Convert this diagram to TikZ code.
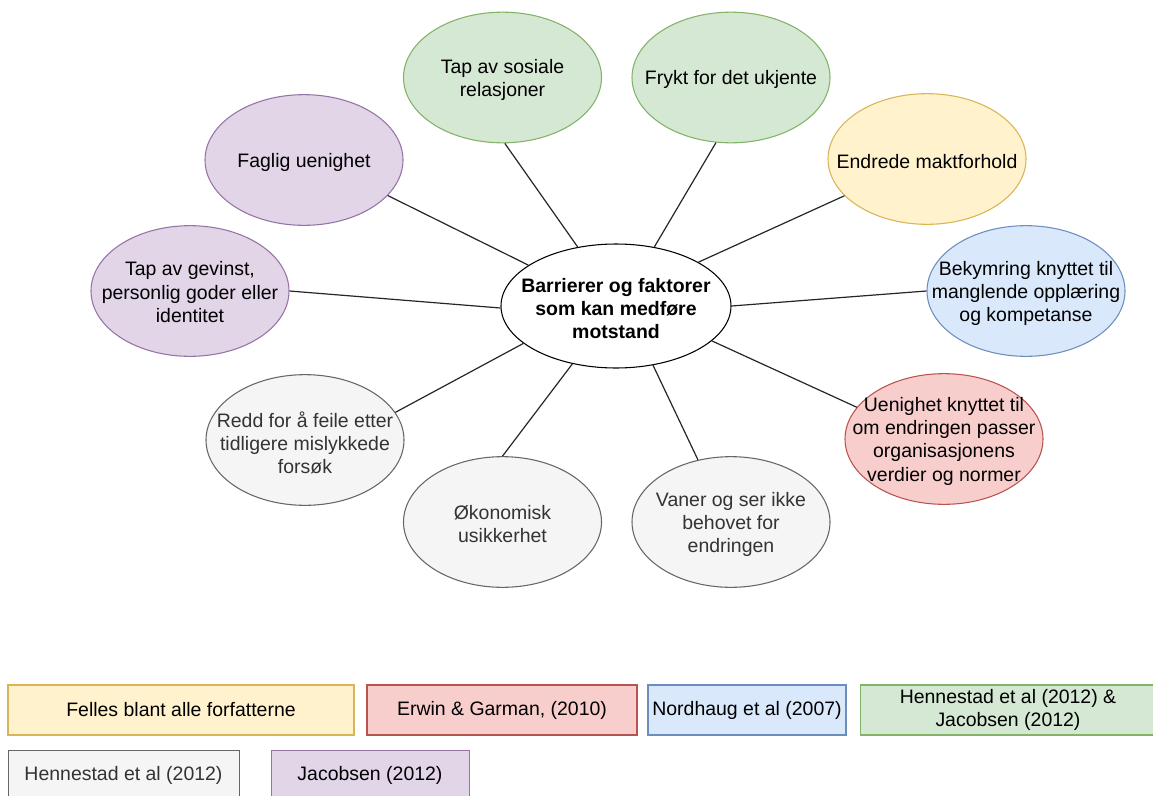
\documentclass[tikz,border=0pt]{standalone}
\usepackage{fontspec}
\setmainfont{Liberation Sans}
\usetikzlibrary{shapes.geometric}

% draw.io palette
\definecolor{yelF}{HTML}{FFF2CC}\definecolor{yelD}{HTML}{D6B656}
\definecolor{redF}{HTML}{F8CECC}\definecolor{redD}{HTML}{B85450}
\definecolor{bluF}{HTML}{DAE8FC}\definecolor{bluD}{HTML}{6C8EBF}
\definecolor{grnF}{HTML}{D5E8D4}\definecolor{grnD}{HTML}{82B366}
\definecolor{gryF}{HTML}{F5F5F5}\definecolor{gryD}{HTML}{666666}
\definecolor{purF}{HTML}{E1D5E7}\definecolor{purD}{HTML}{9673A6}
\definecolor{gryT}{HTML}{333333}

\tikzset{
  bubble/.style={ellipse, draw, line width=0.8pt, inner sep=0pt,
    minimum width=148.5pt, minimum height=98pt},
  hub/.style={ellipse, draw=black, fill=white, line width=0.8pt, inner sep=0pt,
    minimum width=172.5pt, minimum height=93pt},
  btext/.style={align=center, inner sep=0pt, yshift=-1.8pt,
    font=\fontsize{14.6}{17.3}\selectfont},
  key/.style={rectangle, draw, line width=0.8pt, inner sep=0pt, align=center,
    font=\fontsize{14.6}{17.3}\selectfont},
  spoke/.style={draw=black!85, line width=0.9pt},
  yel/.style={fill=yelF, draw=yelD},
  red/.style={fill=redF, draw=redD},
  blu/.style={fill=bluF, draw=bluD},
  grn/.style={fill=grnF, draw=grnD},
  gry/.style={fill=gryF, draw=gryD},
  pur/.style={fill=purF, draw=purD},
}

\begin{document}
\begin{tikzpicture}[x=0.75pt, y=-0.75pt]
\useasboundingbox (0,0) rectangle (1153,796);

% hub
\node[hub] (c) at (616,306) {};
\node[btext, font=\fontsize{14.6}{17.3}\selectfont\bfseries] (ct) at (c.center)
  {Barrierer og faktorer\\som kan medføre\\motstand};

% surrounding factors
\node[bubble, grn] (sos)   at (502.5,77.5) {};
\node[bubble, grn] (frykt) at (731,77.5)   {};
\node[bubble, yel] (endr)  at (927,159)    {};
\node[bubble, pur] (fag)   at (304,160)    {};
\node[bubble, pur] (gev)   at (190,291)    {};
\node[bubble, blu] (bek)   at (1026,291)   {};
\node[bubble, red] (uen)   at (944,439)    {};
\node[bubble, gry] (redd)  at (305,440)    {};
\node[bubble, gry] (oko)   at (502.5,522)  {};
\node[bubble, gry] (vaner) at (731,522)    {};

\node[btext] (sost)   at (sos.center)   {Tap av sosiale\\relasjoner};
\node[btext] (fryktt) at (frykt.center) {Frykt for det ukjente};
\node[btext] (endrt)  at (endr.center)  {Endrede maktforhold};
\node[btext] (fagt)   at (fag.center)   {Faglig uenighet};
\node[btext, yshift=1pt] (gevt) at (gev.center) {Tap av gevinst,\\personlig goder eller\\identitet};
\node[btext] (bekt)   at (bek.center)   {Bekymring knyttet til\\manglende opplæring\\og kompetanse};
\node[btext] (uent)   at (uen.center)   {Uenighet knyttet til\\om endringen passer\\organisasjonens\\verdier og normer};
\node[btext, text=gryT] (reddt)  at (redd.center)  {Redd for å feile etter\\tidligere mislykkede\\forsøk};
\node[btext, text=gryT] (okot)   at (oko.center)   {Økonomisk\\usikkerhet};
\node[btext, text=gryT] (vanert) at (vaner.center) {Vaner og ser ikke\\behovet for\\endringen};

% spokes
\draw[spoke] (c.123.5) -- (sos.-88.6);
\draw[spoke] (c.57.4)  -- (frykt.-103.3);
\draw[spoke] (c.28.2)  -- (endr.-156);
\draw[spoke] (c.155.8) -- (fag.-23.4);
\draw[spoke] (c.181)   -- (gev.0);
\draw[spoke] (c.-0.5)  -- (bek.180);
\draw[spoke] (c.-20.8) -- (uen.160.4);
\draw[spoke] (c.-158.8) -- (redd.17.5);
\draw[spoke] (c.-127.2) -- (oko.90);
\draw[spoke] (c.-58.5) -- (vaner.118);

% legend
\node[key, yel, minimum width=259.5pt, minimum height=37.5pt] (k1) at (181,710) {Felles blant alle forfatterne};
\node[key, red, minimum width=202.5pt, minimum height=37.5pt] (k2) at (502,710) {Erwin \& Garman, (2010)};
\node[key, blu, minimum width=148.5pt, minimum height=37.5pt] (k3) at (747,710) {Nordhaug et al (2007)};
\node[key, grn, minimum width=221pt,   minimum height=37.5pt] (k4) at (1008,710) {Hennestad et al (2012) \&\\Jacobsen (2012)};
\node[key, gry, minimum width=173pt, minimum height=37.5pt, anchor=north west] (k5) at (8,750) {};
\node[key, pur, minimum width=148.5pt, minimum height=37.5pt, anchor=north west] (k6) at (271,750) {};
\node[font=\fontsize{14.6}{17.3}\selectfont, text=gryT, inner sep=0pt] (k5t) at (123.5,775) {Hennestad et al (2012)};
\node[font=\fontsize{14.6}{17.3}\selectfont, inner sep=0pt] (k6t) at (370,775) {Jacobsen (2012)};
\end{tikzpicture}
\end{document}
